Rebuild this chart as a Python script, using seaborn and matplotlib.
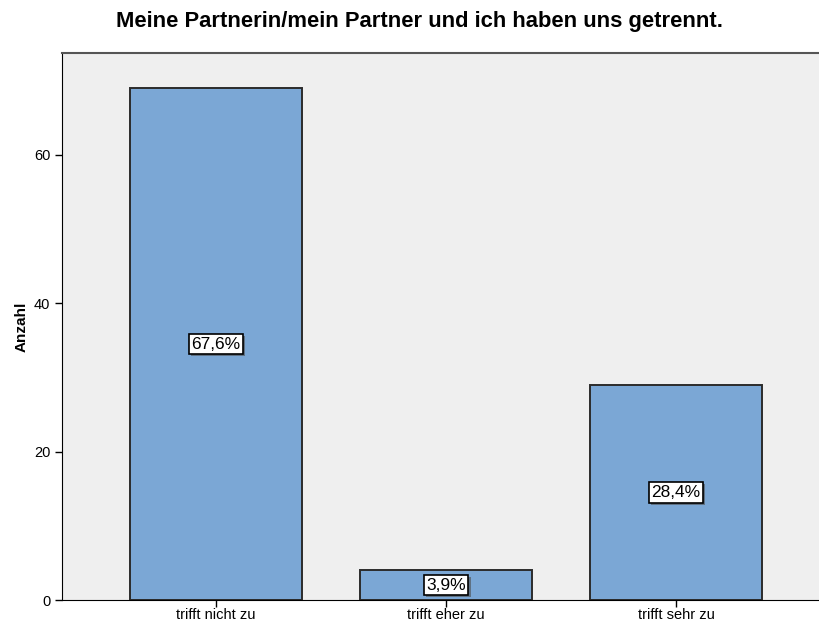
import matplotlib
matplotlib.use("Agg")
import matplotlib.pyplot as plt
import matplotlib.patheffects as pe
import seaborn as sns
import pandas as pd

# data
categories = ["trifft nicht zu", "trifft eher zu", "trifft sehr zu"]
counts = [69, 4, 29]
percent_labels = ["67,6%", "3,9%", "28,4%"]

df = pd.DataFrame({"Kategorie": categories, "Anzahl": counts})

sns.set_style("white")
plt.rcParams["font.family"] = ["Liberation Sans", "DejaVu Sans"]
plt.rcParams["text.color"] = "black"

fig = plt.figure(figsize=(8.2, 6.25), dpi=100)
ax = fig.add_axes([62 / 820, 25 / 625, 758 / 820, 547 / 625])
ax.set_facecolor("#efefef")

sns.barplot(data=df, x="Kategorie", y="Anzahl", color="#7ba7d5", width=0.75,
            edgecolor="#2b2b2b", linewidth=1.4, saturation=1, ax=ax)

ax.set_xlim(-0.67, 2.626)
ax.set_ylim(0, 73.75)
ax.set_yticks([0, 20, 40, 60])

# percentage labels in white boxes at the middle of each bar
for i, (c, lab) in enumerate(zip(counts, percent_labels)):
    t = ax.text(i, c / 2, lab, ha="center", va="center", fontsize=12.5, color="black",
                bbox=dict(boxstyle="square,pad=0.15", fc="white", ec="black", lw=1.2))
    t.get_bbox_patch().set_path_effects([pe.SimplePatchShadow(offset=(1.5, -1.5), alpha=0.6),
                                          pe.Normal()])

ax.spines["right"].set_visible(False)
ax.spines["top"].set_color("#555555")
ax.spines["top"].set_linewidth(1.5)
ax.spines["left"].set_color("black")
ax.spines["bottom"].set_color("black")

ax.tick_params(axis="both", direction="out", bottom=True, left=True, length=5, width=1,
               labelsize=10.5, colors="black")
ax.tick_params(axis="x", pad=1)
ax.set_xlabel("")
ax.set_ylabel("Anzahl", fontsize=11, fontweight="bold", labelpad=4, color="black")

fig.suptitle("Meine Partnerin/mein Partner und ich haben uns getrennt.",
             fontsize=15.8, fontweight="bold", x=0.511, y=0.982, color="black")

fig.savefig("out.png", dpi=100)
